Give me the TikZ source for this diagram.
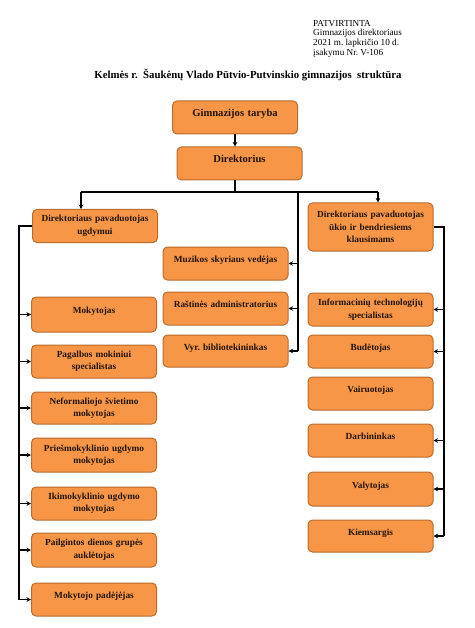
\documentclass[tikz,border=0pt]{standalone}
\usepackage{fontspec}
\setmainfont{Liberation Serif}
\frenchspacing
\usetikzlibrary{arrows.meta}
\definecolor{boxfill}{HTML}{F79646}
\definecolor{boxline}{HTML}{B96C2E}
\definecolor{boxtext}{HTML}{22140A}
\tikzset{
  box/.style={draw=boxline, fill=boxfill, line width=1pt, rounded corners=4.5pt,
    text=boxtext, align=center, inner xsep=3pt, inner ysep=0pt,
    minimum height=33pt, text width=119pt,
    font=\bfseries\fontsize{9.3}{12.5}\selectfont},
  topbox/.style={box, font=\bfseries\fontsize{10.6}{12.5}\selectfont},
  one/.style={text height=7pt, text depth=9pt},
  conn/.style={line width=1.5pt, black},
  arr/.style={conn, -{Stealth[length=4.5pt,width=4.5pt]}}
}
\begin{document}
\begin{tikzpicture}[x=1pt,y=-1pt]
\useasboundingbox (0,0) rectangle (474,628);
% header
\node[anchor=north west, inner sep=0pt, align=left,
  font=\fontsize{9.2}{9.6}\selectfont] (hdr) at (313,20)
  {PATVIRTINTA\\Gimnazijos direktoriaus\\2021 m. lapkričio 10 d.\\įsakymu Nr. V-106};
\node[inner sep=0pt, font=\bfseries\fontsize{10.8}{12}\selectfont] (title) at (248,75)
  {Kelmės r.\ \ Šaukėnų Vlado Pūtvio-Putvinskio gimnazijos\ \ struktūra};
% top
\node[topbox, one] (tar) at (235,117.5) {Gimnazijos taryba};
\node[topbox, one] (dir) at (239.5,163.5) {Direktorius};
% left column
\node[box] (pu) at (95,226) {Direktoriaus pavaduotojas\\ugdymui};
\node[box, one, minimum height=35pt] (l1) at (94,314.5) {Mokytojas};
\node[box] (l2) at (94,361.5) {Pagalbos mokiniui\\specialistas};
\node[box, minimum height=32pt] (l3) at (94,408) {Neformaliojo švietimo\\mokytojas};
\node[box, minimum height=34pt] (l4) at (94,455) {Priešmokyklinio ugdymo\\mokytojas};
\node[box] (l5) at (94,503.5) {Ikimokyklinio ugdymo\\mokytojas};
\node[box, minimum height=34pt] (l6) at (94,550) {Pailgintos dienos grupės\\auklėtojas};
\node[box, one] (l7) at (94,599.5) {Mokytojo padėjėjas};
% middle column
\node[box, one] (m1) at (225.5,263.5) {Muzikos skyriaus vedėjas};
\node[box, one] (m2) at (225.5,308.5) {Raštinės administratorius};
\node[box, one, minimum height=32pt] (m3) at (225.5,351) {Vyr. bibliotekininkas};
% right column
\node[box, minimum height=48pt] (pk) at (370.5,227) {Direktoriaus pavaduotojas\\ūkio ir bendriesiems\\klausimams};
\node[box] (r1) at (370.5,309.5) {Informacinių technologijų\\specialistas};
\node[box, one] (r2) at (370.5,351.5) {Budėtojas};
\node[box, one] (r3) at (370.5,393.5) {Vairuotojas};
\node[box, one] (r4) at (370.5,440.5) {Darbininkas};
\node[box, one, minimum height=34pt] (r5) at (370.5,489) {Valytojas};
\node[box, one, minimum height=32pt] (r6) at (370.5,536) {Kiemsargis};
% junction coordinates
\coordinate (jt) at (235,192);
\coordinate (jl) at (81,192);
\coordinate (jr) at (378,192);
\coordinate (jm) at (298,192);
\coordinate (lx) at (19,226);
\coordinate (rx) at (444,227);
% connectors
\draw[arr] (tar.south -| jt) -- (dir.north -| jt);
\draw[conn] (dir.south -| jt) -- (jt);
\draw[conn] (jl) -- (jr);
\draw[arr] (jl) -- (pu.north -| jl);
\draw[arr] (jr) -- (pk.north -| jr);
\draw[conn] (jm) -- (jm |- m3.east);
\foreach \n in {m1,m2,m3} \draw[arr] (jm |- \n.east) -- (\n.east);
\draw[conn] (pu.west) -- (lx) -- (lx |- l7.west);
\foreach \n in {l1,l2,l3,l4,l5,l6,l7} \draw[arr] (lx |- \n.west) -- (\n.west);
\draw[conn] (pk.east) -- (rx) -- (rx |- r6.east);
\foreach \n in {r1,r2,r4,r5,r6} \draw[arr] (rx |- \n.east) -- (\n.east);
\end{tikzpicture}
\end{document}
